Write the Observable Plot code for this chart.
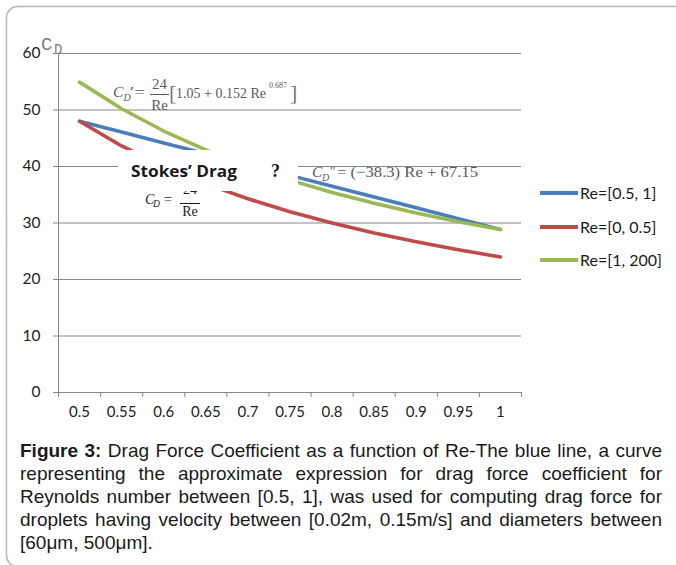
<!DOCTYPE html>
<html>
<head>
<meta charset="utf-8">
<script src="https://cdn.jsdelivr.net/npm/d3@7"></script>
<script src="https://cdn.jsdelivr.net/npm/@observablehq/plot@0.6"></script>
<style>
  html, body { margin: 0; padding: 0; background: #fff; overflow: hidden; }
  #wrap { position: relative; width: 676px; height: 565px; overflow: hidden; }
  #chart { position: absolute; left: 0; top: 0; }
  #overlay { position: absolute; left: 0; top: 0; }
  #caption { position: absolute; left: 20px; top: 439px; width: 642px;
    font-family: "Liberation Sans", Arial, sans-serif; font-size: 19px; line-height: 23px; color: #1a1a1a; }
  #caption div { text-align: justify; text-align-last: justify; white-space: nowrap; }
  #caption div.last { text-align: left; text-align-last: left; }
</style>
</head>
<body>
<div id="wrap">
  <div id="chart"></div>
  <svg id="overlay" width="676" height="565"></svg>
  <div id="caption"></div>
</div>
<script>
// ---- data ----
const categories = [0.5, 0.55, 0.6, 0.65, 0.7, 0.75, 0.8, 0.85, 0.9, 0.95, 1];
const xLabels = ["0.5", "0.55", "0.6", "0.65", "0.7", "0.75", "0.8", "0.85", "0.9", "0.95", "1"];
const yTicks = [0, 10, 20, 30, 40, 50, 60];
const seriesNames = ["Re=[0.5, 1]", "Re=[0, 0.5]", "Re=[1, 200]"];
const seriesColors = ["#4A7EBB", "#BE4B48", "#98B954"];
const blueValues = [48.0, 46.09, 44.17, 42.26, 40.34, 38.43, 36.51, 34.6, 32.68, 30.77, 28.85];
const redValues = [48.0, 43.64, 40.0, 36.92, 34.29, 32.0, 30.0, 28.24, 26.67, 25.26, 24.0];
const greenValues = [54.93, 50.22, 46.28, 42.94, 40.08, 37.59, 35.41, 33.48, 31.77, 30.23, 28.85];
const captionLines = [
  ["Figure 3:", " Drag Force Coefficient as a function of Re-The blue line, a curve"],
  ["", "representing the approximate expression for drag force coefficient for"],
  ["", "Reynolds number between [0.5, 1], was used for computing drag force for"],
  ["", "droplets having velocity between [0.02m, 0.15m/s] and diameters between"],
  ["", "[60μm, 500μm]."]
];

// ---- table ----
const seriesValues = [blueValues, redValues, greenValues];
const rows = [];
seriesValues.forEach((vals, s) => vals.forEach((v, i) => rows.push({Re: categories[i], CD: v, series: seriesNames[s]})));

const step = categories[1] - categories[0];
const xDomain = [categories[0] - step / 2, categories[categories.length - 1] + step / 2];
const edges = [...categories.map(c => c - step / 2), categories[categories.length - 1] + step / 2];
const gray = "#878787";

const chart = Plot.plot({
  width: 676,
  height: 432,
  marginLeft: 58,
  marginRight: 155,
  marginTop: 53,
  marginBottom: 40,
  x: {domain: xDomain},
  y: {domain: [0, 60]},
  color: {domain: seriesNames, range: seriesColors},
  style: {fontFamily: "Lato, sans-serif", fontSize: "15px", color: "#222", background: "transparent"},
  marks: [
    Plot.gridY(yTicks, {stroke: gray, strokeOpacity: 1}),
    Plot.ruleY([0], {stroke: gray}),
    Plot.ruleX([xDomain[0]], {stroke: gray}),
    Plot.axisY(yTicks, {tickSize: 5, tickPadding: 13, stroke: gray, label: null, fontSize: 15.5}),
    Plot.axisX(edges, {tickSize: 5, tickFormat: () => "", stroke: gray, label: null}),
    Plot.axisX(categories, {tickSize: 0, tickPadding: 14, tickFormat: d => xLabels[categories.indexOf(d)], label: null}),
    Plot.line(rows, {x: "Re", y: "CD", z: "series", stroke: "series", strokeWidth: 3.6, strokeLinejoin: "round", strokeLinecap: "round"})
  ]
});
document.getElementById("chart").appendChild(chart);

// ---- overlay annotations ----
const ov = d3.select("#overlay");
function t(x, y, str, o = {}) {
  const e = ov.append("text").attr("x", x).attr("y", y).text(str)
    .attr("font-family", o.ff || "'Liberation Serif', serif")
    .attr("font-size", o.fs || 15)
    .attr("fill", o.fill || "#595959");
  if (o.it) e.attr("font-style", "italic");
  if (o.bold) e.attr("font-weight", "bold");
  if (o.anchor) e.attr("text-anchor", o.anchor);
  if (o.len) e.attr("textLength", o.len).attr("lengthAdjust", "spacingAndGlyphs");
  return e;
}
function hline(x1, x2, y, c, w = 1) {
  ov.append("line").attr("x1", x1).attr("x2", x2).attr("y1", y).attr("y2", y).attr("stroke", c).attr("stroke-width", w);
}

// Stokes formula (partly hidden by the white box)
const dark = "#1a1a1a";
t(145, 204, "C", {it: true, fs: 14, fill: dark});
t(153, 207, "D", {it: true, fs: 9.5, fill: dark});
t(164, 204, "=", {fs: 14, fill: dark});
t(190, 194, "24", {fs: 14, fill: dark, anchor: "middle"});
hline(180, 200, 203.5, dark, 1);
t(190, 216, "Re", {fs: 14, fill: dark, anchor: "middle"});

// white box
ov.append("rect").attr("x", 118).attr("y", 150).attr("width", 180).attr("height", 41).attr("fill", "#fff");
t(131, 177, "Stokes’ Drag", {ff: "'Open Sans', sans-serif", fs: 16.5, bold: true, fill: "#1a1a1a", len: 106});
t(271, 177, "?", {fs: 18, bold: true, fill: "#1a1a1a"});

// C_D' formula
t(113, 97, "C", {it: true, fs: 15.5});
t(123.5, 101, "D", {it: true, fs: 10});
t(130, 97, "′=", {fs: 15, len: 15});
t(159.5, 88.5, "24", {fs: 15, anchor: "middle"});
hline(150, 169, 94.5, "#595959", 1);
t(159.5, 110, "Re", {fs: 15, anchor: "middle"});
t(169, 100, "[", {fs: 22, fill: "#7a7a7a"});
t(176, 98, "1.05 + 0.152 Re", {fs: 15, len: 90});
t(269, 88, "0.687", {fs: 8.5, len: 18});
t(290, 100, "]", {fs: 22, fill: "#7a7a7a"});

// C_D'' formula
t(312, 177, "C", {it: true, fs: 15.5});
t(322, 181, "D", {it: true, fs: 10});
t(330, 175, "′′", {fs: 13});
t(337, 177, "= (−38.3) Re + 67.15", {fs: 15, len: 141});

// C_D axis label
t(41, 50, "C", {ff: "'Liberation Mono', monospace", fs: 19, fill: "#7f7f7f"});
t(54, 54, "D", {ff: "'Liberation Mono', monospace", fs: 14, fill: "#7f7f7f"});

// legend
const legendY = [193, 227, 260];
seriesNames.forEach((name, i) => {
  ov.append("line").attr("x1", 540).attr("x2", 578).attr("y1", legendY[i]).attr("y2", legendY[i])
    .attr("stroke", seriesColors[i]).attr("stroke-width", 4);
  t(580, legendY[i] + 6, name, {ff: "Lato, sans-serif", fs: 16, fill: "#1a1a1a"});
});

// page border
ov.append("rect").attr("x", 6.5).attr("y", 6.5).attr("width", 800).attr("height", 560).attr("rx", 11)
  .attr("fill", "none").attr("stroke", "#b8b8b8").attr("stroke-width", 1.5);

// caption
const cap = d3.select("#caption");
captionLines.forEach((ln, i) => {
  const d = cap.append("div");
  if (i === captionLines.length - 1) d.attr("class", "last");
  if (ln[0]) d.append("b").text(ln[0]);
  d.append("span").text(ln[1]);
});
</script>
</body>
</html>
